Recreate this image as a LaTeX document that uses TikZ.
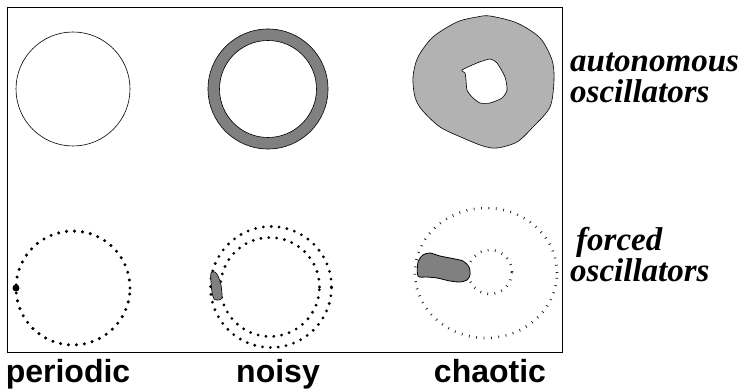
\documentclass[tikz,border=0pt]{standalone}
\usepackage{fontspec}
\setmainfont{Liberation Serif}
\setsansfont{Liberation Sans}
\usepackage{tikz,xcolor}
\usetikzlibrary{calc}

\begin{document}
\begin{tikzpicture}[x=1pt,y=-1pt]
    % Define styles
    \tikzset{orbit/.style={draw=black, line width=0.6pt}}
    \tikzset{dotorbit/.style={draw=black, line width=3.4pt, line cap=round, dash pattern=on 0pt off 8pt}}
    \tikzset{tickorbit/.style={draw=black!85, line width=2.6pt, dash pattern=on 0.8pt off 6.6pt}}
    \tikzset{rowlabel/.style={anchor=north west, align=left, font=\fontsize{33}{31}\selectfont\bfseries\itshape, inner sep=0pt}}
    \tikzset{collabel/.style={anchor=base, font=\fontsize{32}{32}\selectfont\sffamily\bfseries, inner sep=0pt}}
    \useasboundingbox (0,0) rectangle (743,390);
    % Define the centres
    \coordinate (P1) at (73,89);
    \coordinate (N1) at (268,89);
    \coordinate (P2) at (73,288);
    \coordinate (N2) at (271,287);
    \coordinate (C2) at (486,273);
    % Frame
    \draw[line width=0.8pt] (7,7) rectangle (562,352);
    % Top row: autonomous oscillators
    \draw[orbit] (P1) circle[radius=57pt];
    \fill[gray, even odd rule, draw=black, line width=0.6pt]
        (N1) circle[radius=60pt] (N1) circle[radius=48.5pt];
    \filldraw[fill=black!30, draw=black, line width=0.6pt, even odd rule]
        plot[smooth cycle, tension=0.5] coordinates {(490,16) (517,23) (540,38) (552,60) (554,80) (550,107)
          (533,127) (517,142) (497,148) (483,146) (463,138) (440,127) (422,110) (415,97) (413,77)
          (418,57) (433,37) (457,22) (477,17)}
        plot[smooth cycle, tension=0.4] coordinates {(462,70) (477,63) (490,59) (497,63) (505,77) (507,90)
          (502,98) (490,103) (480,103) (472,97) (467,90) (466,80) (465,73)};
    % Bottom row: forced oscillators
    \draw[dotorbit] (P2) circle[radius=57pt];
    \fill (16,288) circle[radius=3.5pt];
    \draw[dotorbit, line width=3.1pt, dash pattern=on 0pt off 7.9pt] (N2) circle[radius=60.5pt];
    \draw[dotorbit, line width=3.1pt, dash pattern=on 0pt off 7.9pt] ($(N2)+(-1,0)$) circle[radius=49.5pt];
    \filldraw[fill=gray, draw=black, line width=0.6pt]
        plot[smooth cycle, tension=0.5] coordinates {(211,273) (215,272) (218,276) (221,285) (222,298)
          (218,300) (214,299) (212,292) (211,282)};
    \draw[tickorbit] (C2) ellipse[x radius=71pt, y radius=65pt];
    \draw[tickorbit, dash pattern=on 0.8pt off 6.4pt] (490,272) circle[radius=22pt];
    \filldraw[fill=gray, draw=black, line width=0.8pt]
        plot[smooth cycle, tension=0.5] coordinates {(418,262) (423,255) (430,253) (440,256) (450,258)
          (463,261) (469,267) (470,275) (467,280) (460,282) (450,281) (437,278) (427,277) (418,276)};
    % Labels
    \node[rowlabel] (auto) at (570,53) {autonomous\\oscillators};
    \node[rowlabel] (forc) at (570,227) {\hspace{6pt}forced\\oscillators};
    \node[collabel] (per) at (68,382) {periodic};
    \node[collabel] (noi) at (278,382) {noisy};
    \node[collabel] (cha) at (490,382) {chaotic};
\end{tikzpicture}
\end{document}
